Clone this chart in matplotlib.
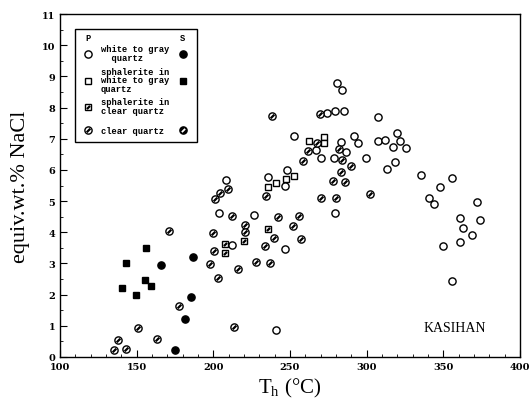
import numpy as np
import matplotlib
matplotlib.use('Agg')
from matplotlib import pyplot as plt
from matplotlib.path import Path
from matplotlib.patches import Rectangle
from matplotlib.ticker import MultipleLocator

#  primary inclusions (P)
white_gray_T = [283.9, 280.7, 274.1, 279.4, 285.2, 252.6, 291.7, 294.4, 283.3, 286.5,
                267.0, 270.2, 278.7, 248.0, 208.3, 235.7, 246.7, 203.7, 226.5, 279.3,
                212.2, 246.7, 240.9, 307.4, 307.4, 312.0, 319.8, 321.7, 317.2, 325.7,
                299.6, 318.5, 313.3, 335.4, 355.7, 347.8, 340.7, 343.9, 372.0, 360.9,
                373.9, 362.8, 368.7, 360.9, 349.8, 355.7]
white_gray_S = [8.56, 8.79, 7.83, 7.89, 7.89, 7.09, 7.09, 6.86, 6.90, 6.57,
                6.64, 6.38, 6.38, 6.00, 5.68, 5.77, 5.48, 4.62, 4.55, 4.62,
                3.59, 3.46, 0.87, 7.70, 6.93, 6.96, 7.18, 6.93, 6.74, 6.70,
                6.38, 6.25, 6.03, 5.84, 5.74, 5.45, 5.10, 4.91, 4.97, 4.46,
                4.39, 4.14, 3.91, 3.69, 3.56, 2.44]

sph_white_T = [262.4, 272.2, 272.2, 247.4, 252.6, 240.9, 235.7]
sph_white_S = [6.93, 7.06, 6.86, 5.71, 5.80, 5.58, 5.45]

sph_clear_T = [235.7, 207.6, 220.0, 207.6]
sph_clear_S = [4.11, 3.62, 3.72, 3.34]

clear_T = [238.3, 269.6, 267.6, 282.0, 261.7, 258.5, 283.9, 289.8, 283.3, 278.0,
           285.9, 209.6, 204.4, 201.1, 234.3, 270.2, 280.0, 302.2, 212.2, 242.2,
           255.9, 220.7, 252.0, 199.8, 220.7, 239.6, 257.2, 233.7, 200.4, 197.8,
           216.1, 227.8, 237.0, 203.0, 171.1, 177.6, 150.9, 213.5, 137.8, 163.3,
           135.2, 143.0]
clear_S = [7.73, 7.79, 6.86, 6.67, 6.61, 6.29, 6.32, 6.13, 5.93, 5.64,
           5.61, 5.39, 5.26, 5.07, 5.16, 5.10, 5.10, 5.23, 4.52, 4.49,
           4.52, 4.23, 4.20, 3.98, 4.01, 3.82, 3.78, 3.56, 3.40, 2.98,
           2.82, 3.05, 3.01, 2.53, 4.04, 1.64, 0.93, 0.96, 0.55, 0.58,
           0.22, 0.26]

#  secondary inclusions (S)
sec_white_T = [165.9, 186.7, 185.4, 181.5, 175.0]
sec_white_S = [2.95, 3.21, 1.92, 1.22, 0.22]

sec_sph_T = [156.1, 143.0, 155.4, 159.3, 140.4, 149.6]
sec_sph_S = [3.50, 3.01, 2.47, 2.28, 2.21, 1.99]

x_ticks = [100, 150, 200, 250, 300, 350, 400]
y_ticks = list(range(0, 12))

slash = Path([(-1, -1), (1, 1)], [Path.MOVETO, Path.LINETO])

tick_font = dict(family='DejaVu Serif', weight='bold', size=7)
leg_font = dict(family='Liberation Mono', weight='bold', size=6.3)

MS_C = 5.2
MS_S = 4.5


def hatched(ax, x, y, shape, transform=None, ms=MS_C, dark=False):
    kw = {} if transform is None else {'transform': transform}
    if dark:
        ax.plot(x, y, shape, ms=ms, mfc='k', mec='k', mew=1.0, ls='none', **kw)
        ax.plot(x, y, marker=slash, ms=ms * 0.45, color='white', mew=1.3, ls='none', **kw)
    else:
        ax.plot(x, y, shape, ms=ms, mfc='white', mec='k', mew=1.0, ls='none', **kw)
        ax.plot(x, y, marker=slash, ms=ms * 0.5, color='k', mew=1.6, ls='none', **kw)


fig = plt.figure(figsize=(5.3, 4.1), dpi=100)
ax = fig.add_axes([0.113, 0.127, 0.868, 0.836])

ax.plot(white_gray_T, white_gray_S, 'o', ms=MS_C, mfc='white', mec='k', mew=1.0, ls='none')
ax.plot(sph_white_T, sph_white_S, 's', ms=MS_S, mfc='white', mec='k', mew=1.0, ls='none')
hatched(ax, sph_clear_T, sph_clear_S, 's', ms=MS_S)
hatched(ax, clear_T, clear_S, 'o')
ax.plot(sec_white_T, sec_white_S, 'o', ms=MS_C, mfc='k', mec='k', ls='none')
ax.plot(sec_sph_T, sec_sph_S, 's', ms=MS_S, mfc='k', mec='k', ls='none')

ax.set_xlim(100, 400)
ax.set_ylim(0, 11)
ax.set_xticks(x_ticks)
ax.set_yticks(y_ticks)
ax.xaxis.set_minor_locator(MultipleLocator(10))
ax.yaxis.set_minor_locator(MultipleLocator(0.5))
ax.tick_params(which='both', direction='in', top=False, right=False)
ax.tick_params(which='major', length=5, width=0.8)
ax.tick_params(which='minor', length=2.5, width=0.6)
ax.set_xticklabels([str(t) for t in x_ticks], **tick_font)
ax.set_yticklabels([str(t) for t in y_ticks], **tick_font)
for s in ax.spines.values():
    s.set_linewidth(1.0)

ax.set_ylabel('equiv.wt.% NaCl', family='Liberation Serif', size=16, labelpad=8)
ax.set_xlabel(r'T$_\mathregular{h}$ (°C)', family='Liberation Serif', size=15, labelpad=4)

ax.text(0.859, 0.087, 'KASIHAN', transform=ax.transAxes, ha='center', va='center',
        family='Liberation Serif', size=10)

#  legend box
ta = ax.transAxes
ax.add_patch(Rectangle((0.033, 0.627), 0.265, 0.329, transform=ta, fill=False, lw=1.0))
ax.text(0.061, 0.933, 'P', transform=ta, ha='center', va='center', **leg_font)
ax.text(0.267, 0.933, 'S', transform=ta, ha='center', va='center', **leg_font)

ax.plot([0.061], [0.883], 'o', ms=MS_C, mfc='white', mec='k', mew=1.0, transform=ta)
ax.plot([0.268], [0.883], 'o', ms=MS_C, mfc='k', mec='k', transform=ta)
ax.text(0.089, 0.886, 'white to gray\n  quartz', transform=ta, ha='left', va='center',
        linespacing=0.95, **leg_font)

ax.plot([0.061], [0.805], 's', ms=MS_S, mfc='white', mec='k', mew=1.0, transform=ta)
ax.plot([0.268], [0.805], 's', ms=MS_S, mfc='k', mec='k', transform=ta)
ax.text(0.089, 0.808, 'sphalerite in\nwhite to gray\nquartz', transform=ta, ha='left',
        va='center', linespacing=0.95, **leg_font)

hatched(ax, [0.061], [0.729], 's', transform=ta, ms=MS_S)
ax.text(0.089, 0.732, 'sphalerite in\nclear quartz', transform=ta, ha='left',
        va='center', linespacing=0.95, **leg_font)

hatched(ax, [0.061], [0.662], 'o', transform=ta)
hatched(ax, [0.268], [0.662], 'o', transform=ta, dark=True)
ax.text(0.089, 0.662, 'clear quartz', transform=ta, ha='left', va='center', **leg_font)

fig.savefig('out.png', dpi=100)
